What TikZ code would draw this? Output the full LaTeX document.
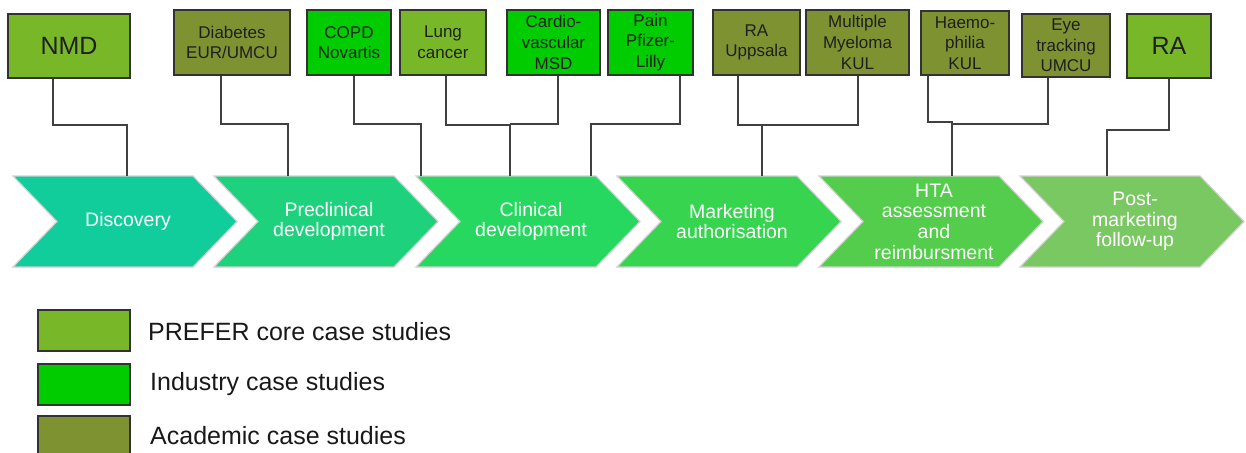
\documentclass[tikz,border=0pt]{standalone}
\usepackage{fontspec}
\setmainfont{Liberation Sans}

% case study categories
\definecolor{corecol}{RGB}{120,184,40}
\definecolor{indcol}{RGB}{0,204,0}
\definecolor{acacol}{RGB}{126,146,50}
\definecolor{edgecol}{RGB}{50,50,50}
\definecolor{linkcol}{RGB}{64,64,64}
% stage chevrons
\definecolor{stA}{RGB}{16,205,155}
\definecolor{stB}{RGB}{30,210,125}
\definecolor{stC}{RGB}{38,216,95}
\definecolor{stD}{RGB}{55,212,80}
\definecolor{stE}{RGB}{83,205,75}
\definecolor{stF}{RGB}{122,200,98}

\tikzset{
  study/.style={draw=edgecol, line width=1.5pt, inner sep=0pt, align=center,
    text=black!88, font=\fontsize{17}{20.7}\selectfont},
  core/.style={study, fill=corecol},
  industry/.style={study, fill=indcol},
  academic/.style={study, fill=acacol},
  bigtext/.style={font=\fontsize{25}{28}\selectfont},
  link/.style={draw=linkcol, line width=1.5pt},
  stagefill/.style={draw=black!18, line width=1.2pt},
  stagetext/.style={text=white, align=center, font=\fontsize{19.5}{20.7}\selectfont},
  legendtext/.style={anchor=west, inner sep=0pt, text=black!90, font=\fontsize{25}{28}\selectfont}
}

% one process stage: name, left x, fill colour, label
\newcommand{\stagechevron}[4]{%
  \path[stagefill, fill=#3] (#2,176) -- ++(180,0) -- ++(44,45.5) -- ++(-44,45.5)
    -- ++(-180,0) -- ++(44,-45.5) -- cycle;
  \node[stagetext] (#1) at (#2+115,221.5) {#4};
}

\begin{document}
\begin{tikzpicture}[x=1pt, y=-1pt]
\useasboundingbox (0,0) rectangle (1246,452);
\clip (0,0) rectangle (1246,452);

% process stages
\stagechevron{disc}{13}{stA}{Discovery}
\stagechevron{precl}{214}{stB}{Preclinical\\development}
\stagechevron{clin}{416}{stC}{Clinical\\development}
\stagechevron{mkt}{617}{stD}{Marketing\\authorisation}
\stagechevron{hta}{819}{stE}{HTA\\assessment\\and\\reimbursment}
\stagechevron{post}{1020}{stF}{Post-\\marketing\\follow-up}

% attachment points on the stages
\coordinate (tDisc) at (127,176);
\coordinate (tPre) at (288,176);
\coordinate (tClinA) at (421,176);
\coordinate (tClinB) at (510,176);
\coordinate (tClinC) at (591,176);
\coordinate (tMkt) at (762,176);
\coordinate (tHta) at (952,176);
\coordinate (tPost) at (1107,176);

% case studies
\node[core, bigtext, minimum width=122, minimum height=64] (nmd) at (69,46) {NMD};
\node[academic, minimum width=116, minimum height=65] (diab) at (232,42.5) {Diabetes\\EUR/UMCU};
\node[industry, minimum width=84, minimum height=65] (copd) at (349,42.5) {COPD\\Novartis};
\node[core, minimum width=86, minimum height=65] (lung) at (443,42.5) {Lung\\cancer};
\node[industry, minimum width=93, minimum height=65] (cardio) at (553.5,42.5) {Cardio-\\vascular\\MSD};
\node[industry, minimum width=85, minimum height=65] (pain) at (650.5,42.5) {Pain\\Pfizer-\\Lilly};
\node[academic, minimum width=87, minimum height=65] (rau) at (756.5,42.5) {RA\\Uppsala};
\node[academic, minimum width=103, minimum height=65] (mm) at (857.5,42.5) {Multiple\\Myeloma\\KUL};
\node[academic, minimum width=88, minimum height=64] (haem) at (965,43) {Haemo-\\philia\\KUL};
\node[academic, minimum width=88, minimum height=63] (eye) at (1066,45.5) {Eye\\tracking\\UMCU};
\node[core, bigtext, minimum width=84, minimum height=64] (ra) at (1169,46) {RA};

% connectors
\draw[link] (nmd.south -| 53,0) |- (127,125) -- (tDisc);
\draw[link] (diab.south -| 221,0) |- (288,124) -- (tPre);
\draw[link] (copd.south -| 354,0) |- (421,124) -- (tClinA);
\draw[link] (lung.south -| 446,0) |- (510,125) -- (tClinB);
\draw[link] (cardio.south -| 558,0) |- (510,124);
\draw[link] (pain.south -| 680,0) |- (591,124) -- (tClinC);
\draw[link] (rau.south -| 738,0) |- (762,125) -- (tMkt);
\draw[link] (mm.south -| 858,0) |- (762,125);
\draw[link] (haem.south -| 928,0) |- (952,122) -- (tHta);
\draw[link] (eye.south -| 1048,0) |- (952,124);
\draw[link] (ra.south) |- (1107,130) -- (tPost);

% legend
\node[core, minimum width=92, minimum height=41] (lgcore) at (84,330.5) {};
\node[legendtext] (lgcoretext) at (148,332) {PREFER core case studies};
\node[industry, minimum width=92, minimum height=41] (lgind) at (84,384.5) {};
\node[legendtext] (lgindtext) at (150,384) {Industry case studies};
\node[academic, minimum width=92, minimum height=41] (lgaca) at (84,436.5) {};
\node[legendtext] (lgacatext) at (150,436) {Academic case studies};
\end{tikzpicture}
\end{document}
